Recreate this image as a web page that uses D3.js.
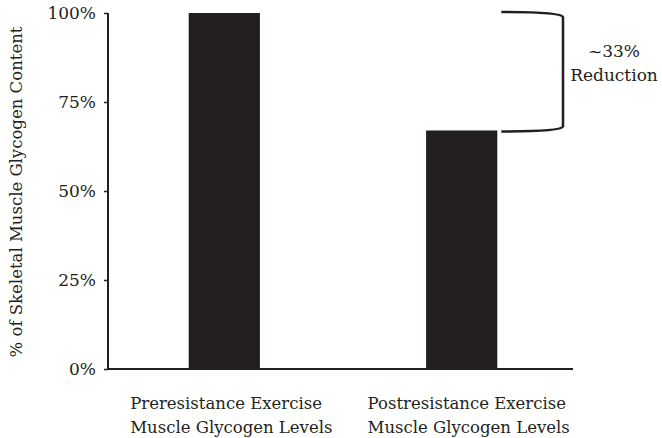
<!doctype html>
<head>
  <meta charset="utf-8">
  <script src="https://cdnjs.cloudflare.com/ajax/libs/d3/7.8.2/d3.min.js"></script>
</head>
<style>
    body { margin: 0; background: #fff; }
    svg text { font-family: "DejaVu Serif", serif; fill: #231f20; }
</style>
<body>
    <div id="chart"></div>
    <script>
        // Datos
        const categories = [
            ["Preresistance Exercise", "Muscle Glycogen Levels"],
            ["Postresistance Exercise", "Muscle Glycogen Levels"]
        ];
        const values = [1.0, 0.67];
        const tickValues = [0, 0.25, 0.5, 0.75, 1];
        const yTitle = "% of Skeletal Muscle Glycogen Content";
        const noteLines = ["~33%", "Reduction"];

        const width = 662, height = 438;
        const ink = '#231f20';

        const svg = d3.select('#chart')
            .append('svg')
            .attr('width', width)
            .attr('height', height);

        const x = d3.scaleBand()
            .domain(d3.range(values.length))
            .range([108, 578])
            .paddingInner(0.7)
            .paddingOuter(0.34);

        const y = d3.scaleLinear()
            .domain([0, 1])
            .range([369, 13]);

        // Barras
        svg.selectAll('.bar')
            .data(values)
            .enter()
            .append('rect')
            .attr('class', 'bar')
            .attr('x', (d, i) => x(i))
            .attr('width', x.bandwidth())
            .attr('y', d => y(d))
            .attr('height', d => y(0) - y(d))
            .attr('fill', ink);

        // Eje Y
        const yAxis = svg.append('g')
            .attr('transform', 'translate(108,0)')
            .call(d3.axisLeft(y).tickValues(tickValues).tickFormat(d3.format('.0%')).tickSize(4).tickPadding(8));
        yAxis.select('.domain').attr('stroke', ink).attr('stroke-width', 2).attr('d', `M0,${y(1)}V${y(0)}`);
        yAxis.selectAll('.tick line').attr('stroke', ink).attr('stroke-width', 1.5);
        yAxis.selectAll('.tick text').attr('font-size', 17).attr('fill', ink);

        // Línea base
        svg.append('line')
            .attr('x1', 107).attr('x2', x.range()[1] - 5)
            .attr('y1', y(0)).attr('y2', y(0))
            .attr('stroke', ink).attr('stroke-width', 2);

        // Título del eje Y
        svg.append('text')
            .attr('transform', `translate(22,${(y(0) + y(1)) / 2 + 1}) rotate(-90)`)
            .attr('text-anchor', 'middle')
            .attr('font-size', 16.5)
            .text(yTitle);

        // Etiquetas de categoría (bloque alineado a la izquierda, centrado bajo la barra)
        categories.forEach((lines, i) => {
            const g = svg.append('g');
            const texts = lines.map((line, j) => g.append('text')
                .attr('y', 409 + j * 24)
                .attr('font-size', 16.5)
                .text(line));
            const maxW = d3.max(texts, t => t.node().getComputedTextLength());
            const cx = x(i) + x.bandwidth() / 2 + 7;
            texts.forEach(t => t.attr('x', cx - maxW / 2));
        });

        // Llave de reducción
        const bx = 563, x0 = x(1) + x.bandwidth() + 4;
        const yTop = y(values[0]) - 1, yBot = y(values[1]) + 1;
        svg.append('path')
            .attr('d', `M${x0},${yTop} Q${bx - 2},${yTop} ${bx},${yTop + 5} L${bx},${yBot - 5} Q${bx - 2},${yBot} ${x0},${yBot}`)
            .attr('fill', 'none')
            .attr('stroke', ink)
            .attr('stroke-width', 2.5);

        svg.selectAll('.note')
            .data(noteLines)
            .enter()
            .append('text')
            .attr('class', 'note')
            .attr('x', 614)
            .attr('y', (d, i) => 57 + i * 24)
            .attr('text-anchor', 'middle')
            .attr('font-size', 17)
            .text(d => d);
    </script>
</body>
